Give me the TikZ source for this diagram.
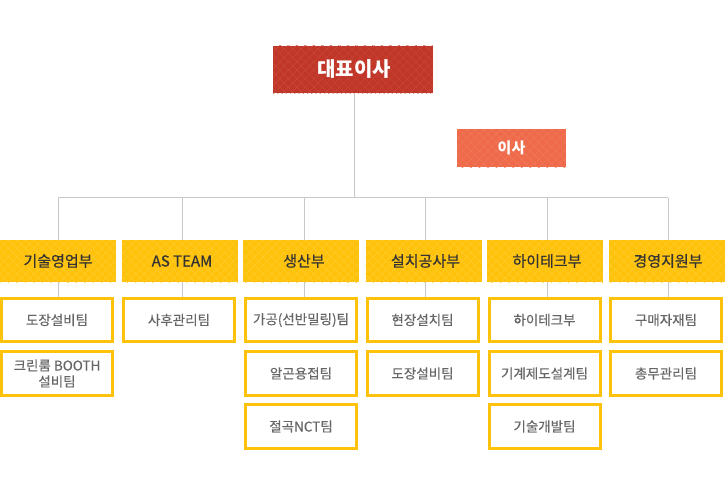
\documentclass[tikz,border=0pt]{standalone}
\usepackage{fontspec}
\setmainfont{Noto Sans CJK KR}
\newfontfamily\deptfont[FakeBold=0.7]{Noto Sans CJK KR}
\newfontfamily\teamfont[FakeBold=0.3]{Noto Sans CJK KR}
\usetikzlibrary{patterns.meta}
\definecolor{ceoRed}{RGB}{192,54,40}
\definecolor{ceoRedL}{RGB}{202,72,56}
\definecolor{dirOr}{RGB}{238,106,74}
\definecolor{dirOrL}{RGB}{242,122,92}
\definecolor{deptY}{RGB}{255,194,10}
\definecolor{deptYL}{RGB}{255,205,50}
\definecolor{connG}{RGB}{200,200,200}
\definecolor{deptTxt}{RGB}{51,51,51}
\definecolor{subTxt}{RGB}{102,102,102}
\tikzset{
  hatch/.style={postaction={pattern={Lines[angle=45,distance=6pt,line width=.4pt]},pattern color=#1},
                postaction={pattern={Lines[angle=-45,distance=6pt,line width=.4pt]},pattern color=#1}},
  ceo/.style={fill=ceoRed,hatch=ceoRedL,text=white,font=\fontsize{20}{23}\selectfont\bfseries,
              minimum width=160pt,minimum height=47pt,inner sep=0pt},
  director/.style={fill=dirOr,hatch=dirOrL,text=white,font=\fontsize{15}{18}\selectfont\bfseries,
              minimum width=109pt,minimum height=38pt,inner sep=0pt},
  dept/.style={fill=deptY,hatch=deptYL,text=deptTxt,font=\deptfont\fontsize{15}{18}\selectfont,
              minimum width=116pt,minimum height=42pt,inner sep=0pt},
  team/.style={draw=deptY,line width=3pt,fill=white,text=subTxt,font=\teamfont\fontsize{13.5}{16}\selectfont,
              minimum width=111pt,minimum height=43.5pt,inner sep=0pt,align=center},
  conn/.style={draw=connG,line width=1pt}
}
\begin{document}
\begin{tikzpicture}[x=1pt,y=-1pt]
\useasboundingbox (0,0) rectangle (725,503);
\node[ceo] (ceo) at (353,69.5) {\hspace*{2pt}대표이사};
\node[director] (dir) at (511.5,148) {이사};
\coordinate (bus) at (0,197.5);
\node[dept] (d1) at (58,261) {기술영업부};
\node[dept] (d2) at (179.5,261) {\hspace*{5pt}AS TEAM};
\node[dept] (d3) at (301,261) {\hspace*{6pt}생산부};
\node[dept] (d4) at (423.5,261) {\hspace*{4pt}설치공사부};
\node[dept] (d5) at (545,261) {\hspace*{4pt}하이테크부};
\node[dept] (d6) at (667,261) {\hspace*{2pt}경영지원부};
% teams
\node[team] (t11) at (57,320) {도장설비팀};
\node[team] (t12) at (57,373.5) {크린룸 BOOTH\\설비팀};
\node[team] (t21) at (179,320) {사후관리팀};
\node[team] (t31) at (301,320) {가공(선반밀링)팀};
\node[team] (t32) at (301,373.5) {알곤용접팀};
\node[team] (t33) at (301,426.5) {절곡NCT팀};
\node[team] (t41) at (422.5,320) {현장설치팀};
\node[team] (t42) at (422.5,373.5) {도장설비팀};
\node[team] (t51) at (544.5,320) {하이테크부};
\node[team] (t52) at (544.5,373.5) {기계제도설계팀};
\node[team] (t53) at (544.5,426.5) {기술개발팀};
\node[team] (t61) at (666,320) {구매자재팀};
\node[team] (t62) at (666,373.5) {총무관리팀};
% connectors
\draw[conn] ([xshift=1pt]ceo.south) -- ([xshift=1pt]ceo.south |- bus);
\draw[conn] (d1.north |- bus) -- ([xshift=1pt]d6.north |- bus);
\foreach \i/\o in {1/0,2/2.5,3/3,4/2,5/2,6/1}{
  \draw[conn] ([xshift=\o pt]d\i.north) -- ([xshift=\o pt]d\i.north |- bus);
  \draw[conn] ([xshift=\o pt]d\i.south) -- ([xshift=\o pt]d\i.south |- t\i1.north);
}
\end{tikzpicture}
\end{document}
